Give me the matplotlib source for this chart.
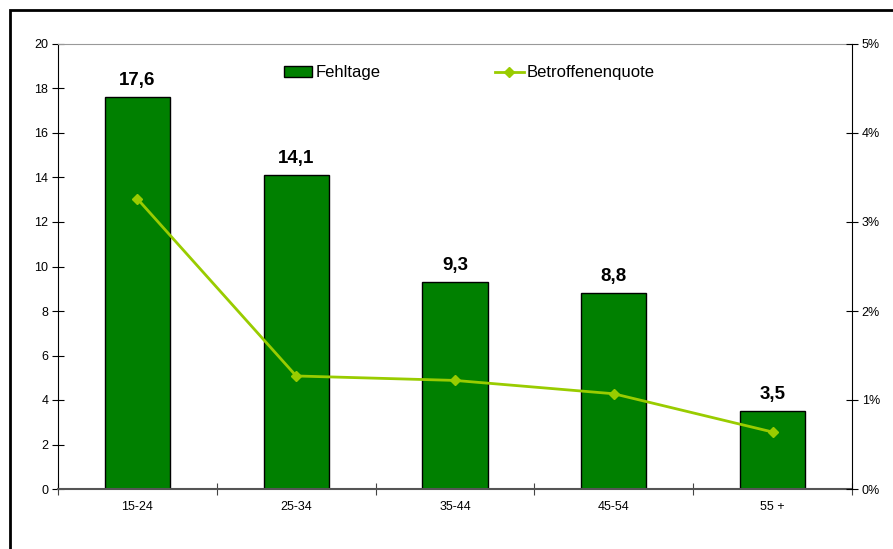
import matplotlib.pyplot as plt
from matplotlib.patches import Rectangle
from matplotlib.lines import Line2D
from matplotlib.ticker import FuncFormatter

plt.rcParams["font.family"] = ["Liberation Sans", "DejaVu Sans"]

kategorien = ["15-24", "25-34", "35-44", "45-54", "55 +"]
fehltage = [17.6, 14.1, 9.3, 8.8, 3.5]
quote = [3.26, 1.27, 1.22, 1.07, 0.64]  # in Prozent

fig = plt.figure(figsize=(8.93, 5.49), dpi=100)
ax = fig.add_axes([58 / 893, 60 / 549, 794 / 893, 445 / 549])

# Rahmen um das Diagramm
fig.patches.append(Rectangle((10 / 893, -0.1), 1.2, 1.1 - 10 / 549,
                             transform=fig.transFigure, fill=False,
                             edgecolor="black", linewidth=2, zorder=0))

x = list(range(len(kategorien)))
balken = ax.bar(x, fehltage, width=0.41, color="#008000", edgecolor="black",
                linewidth=1, zorder=2)
for xi, v in zip(x, fehltage):
    ax.annotate(f"{v:.1f}".replace(".", ","), (xi, v), xytext=(0, 6),
                textcoords="offset points", ha="center", va="bottom",
                fontsize=13.5, fontweight="bold")

ax.set_xlim(-0.5, len(kategorien) - 0.5)
ax.set_ylim(0, 20)
ax.set_yticks(range(0, 21, 2))
ax.set_xticks([i - 0.5 for i in range(len(kategorien) + 1)])
ax.set_xticklabels([])
ax.set_xticks(x, minor=True)
ax.set_xticklabels(kategorien, minor=True)
ax.tick_params(axis="x", which="minor", length=0, pad=9, labelsize=9)
ax.tick_params(axis="x", which="major", direction="inout", length=8,
               color="#444444")
ax.tick_params(axis="y", direction="inout", length=8, labelsize=9, pad=3)

ax.spines["top"].set_color("#999999")
ax.spines["right"].set_visible(False)
ax.spines["bottom"].set_color("#555555")
ax.spines["bottom"].set_linewidth(1.5)

ax2 = ax.twinx()
ax2.plot(x, quote, color="#99CC00", marker="D", markersize=5, linewidth=2,
         zorder=3)
ax2.set_ylim(0, 5)
ax2.set_yticks(range(0, 6))
ax2.yaxis.set_major_formatter(FuncFormatter(lambda v, p: f"{int(v)}%"))
ax2.tick_params(axis="y", direction="inout", length=8, labelsize=9, pad=3)
for s in ["top", "left", "bottom"]:
    ax2.spines[s].set_visible(False)

handles = [Rectangle((0, 0), 1, 1, facecolor="#008000", edgecolor="black"),
           Line2D([], [], color="#99CC00", marker="D", markersize=5, linewidth=2)]
ax.legend(handles, ["Fehltage", "Betroffenenquote"], ncol=2, frameon=False,
          loc="center", bbox_to_anchor=(0.518, 0.935), fontsize=12,
          handlelength=1.7, handletextpad=0.2, columnspacing=6.9)

fig.savefig("out.png", dpi=100, facecolor="white")
